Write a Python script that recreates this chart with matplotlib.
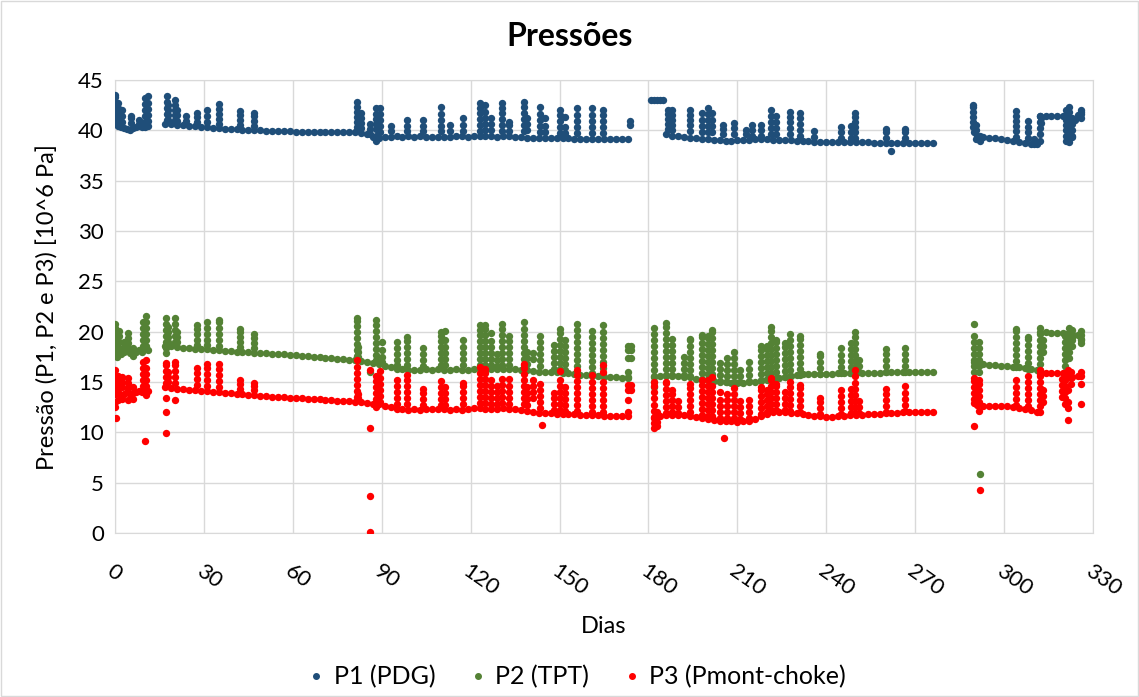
import matplotlib
matplotlib.use("Agg")
import matplotlib.pyplot as plt
from matplotlib.lines import Line2D
from matplotlib.patches import Rectangle
import numpy as np

plt.rcParams['font.family'] = ['Lato', 'DejaVu Sans']

# ---- P1 (PDG) ----
p1_days = [0, 1, 2, 3, 4, 5, 6, 7, 8, 9, 10, 11,
           17, 19, 21, 23, 25, 27, 29, 31, 33, 35, 37, 39, 41, 43, 45, 47, 49, 51, 53, 55, 57, 59,
           61, 63, 65, 67, 69, 71, 73, 75, 77, 79, 81,
           83, 85, 87, 89, 91, 93, 95, 97, 99, 101, 103, 105, 107, 109, 111, 113, 115, 117, 119,
           121, 123, 125, 127, 129, 131, 133, 135, 137, 139, 141, 143, 145, 147, 149, 151, 153,
           155, 157, 159, 161, 163, 165, 167, 169, 171, 173,
           181, 182, 183, 184, 185,
           186, 188, 190, 192, 194, 196, 198, 200, 202, 204, 206, 208, 210, 212, 214, 216, 218,
           220, 222, 224, 226, 228, 230, 232, 234, 236, 238, 240, 242, 244, 246, 248, 250, 252,
           254, 256, 258, 260, 262, 264, 266, 268, 270, 272, 274, 276,
           290, 291, 293, 295, 297, 299, 301, 303, 305, 307, 309, 311,
           312, 314, 316, 318, 320, 322, 323, 324, 325, 326]
p1_vals = [40.6, 40.4, 40.3, 40.2, 40.1, 40.0, 40.2, 40.3, 40.4, 40.3, 40.3, 40.4,
           40.6, 40.6, 40.5, 40.5, 40.4, 40.4, 40.3, 40.3, 40.2, 40.2, 40.1, 40.1, 40.1, 40.0,
           40.0, 40.0, 40.0, 39.9, 39.9, 39.9, 39.9, 39.9,
           39.8, 39.8, 39.8, 39.8, 39.8, 39.8, 39.8, 39.8, 39.8, 39.8, 39.8,
           39.7, 39.6, 39.4, 39.3, 39.4, 39.4, 39.5, 39.4, 39.5, 39.4, 39.5, 39.4, 39.4, 39.4,
           39.4, 39.4, 39.5, 39.5, 39.4,
           39.5, 39.5, 39.5, 39.5, 39.4, 39.5, 39.5, 39.4, 39.4, 39.3, 39.3, 39.3, 39.3, 39.3,
           39.3, 39.3, 39.3,
           39.2, 39.2, 39.2, 39.2, 39.2, 39.2, 39.2, 39.2, 39.2, 39.2,
           43.0, 43.0, 43.0, 43.0, 43.0,
           39.6, 39.5, 39.5, 39.4, 39.3, 39.3, 39.2, 39.2, 39.1, 39.1, 39.0, 39.0, 39.1, 39.1,
           39.1, 39.2, 39.2,
           39.2, 39.1, 39.1, 39.1, 39.1, 39.0, 39.0, 39.0, 38.9, 38.9, 38.9, 38.9, 38.9, 38.9,
           38.9, 38.9, 38.9,
           38.9, 38.8, 38.8, 38.8, 38.8, 38.8, 38.8, 38.8, 38.8, 38.8, 38.8, 38.8,
           39.8, 39.5, 39.4, 39.3, 39.3, 39.2, 39.1, 39.0, 38.9, 38.8, 38.7, 38.7,
           41.4, 41.4, 41.4, 41.4, 41.4, 40.5, 39.5, 41.0, 41.5, 41.8]
p1_spikes = [
    (0, [40.8, 41.3, 41.8, 42.3, 42.8, 43.3, 43.5]), (1, [41.0, 41.6, 42.2, 42.7]),
    (2.5, [40.8, 41.4, 42.0]), (5.5, [40.7, 41.2, 41.4]), (8, [40.6, 41.0]),
    (10, [40.8, 41.4, 42.0, 42.6, 43.2]), (11, [40.9, 41.5, 42.1, 42.7, 43.4]),
    (17.4, [41.0, 41.6, 42.2, 42.8, 43.4]), (18, [41.0, 41.5, 42.0, 42.5]),
    (20.3, [41.0, 41.5, 42.0, 42.5, 43.0]), (21, [40.9, 41.5, 42.0]), (24, [40.9, 41.4]),
    (27.5, [40.8, 41.3, 41.7]), (31, [40.8, 41.4, 42.0]), (35, [40.6, 41.1, 41.6, 42.1, 42.6]),
    (42, [40.5, 41.0, 41.5, 41.9]), (47, [40.4, 40.9, 41.4, 41.7]),
    (81.5, [40.3, 40.8, 41.3, 41.8, 42.3, 42.8]), (83, [40.2, 40.7, 41.2, 41.7]),
    (86, [39.6, 40.1, 40.6]), (88, [39.0, 39.5, 40.1, 40.6, 41.1, 41.6, 42.2]),
    (89.5, [39.8, 40.4, 41.0, 41.6, 42.2]), (93, [39.9, 40.4]), (98.4, [39.9, 40.4, 41.0]),
    (104, [39.9, 40.4, 41.0]), (110, [39.9, 40.4, 41.0, 41.6, 42.3]), (113, [39.9, 40.5]),
    (117.5, [39.9, 40.5, 41.2]), (123, [39.9, 40.5, 41.1, 41.7, 42.2, 42.7]),
    (125, [40.0, 40.6, 41.2, 41.8, 42.5]), (127, [40.0, 40.6, 41.2]),
    (130.5, [39.9, 40.5, 41.1, 41.7, 42.2, 42.7]), (133, [39.9, 40.5, 40.8]),
    (138, [39.9, 40.5, 41.1, 41.7, 42.3, 42.8]), (139, [40.0, 40.6, 41.2]),
    (143.4, [39.8, 40.4, 41.0, 41.6, 42.3]), (145, [39.8, 40.4, 41.2]),
    (150, [39.7, 40.3, 40.9, 41.5, 42.0]), (152, [39.7, 40.3, 41.3]),
    (156, [39.7, 40.3, 40.9, 41.5, 42.2]), (160.8, [39.7, 40.3, 40.9, 41.5, 42.2]),
    (164.7, [39.7, 40.3, 40.9, 41.5, 42.0]), (173.8, [40.5, 40.9]),
    (186.5, [40.1, 40.6, 41.1, 41.6, 42.0]), (188, [40.0, 40.5, 41.0, 41.5, 42.0]),
    (194, [39.9, 40.5, 41.0, 41.5, 42.0]), (198, [39.8, 40.4, 41.0, 41.7]),
    (200, [39.8, 40.4, 41.0, 41.6, 42.2]), (201.5, [39.8, 40.4, 41.0, 41.7]),
    (205, [39.6, 40.1, 40.5]), (209, [39.6, 40.2, 40.7]), (213, [39.6, 40.0]),
    (215, [39.5, 40.0, 40.5]), (218, [39.5, 40.0, 40.5]),
    (221.5, [39.6, 40.2, 40.8, 41.4, 42.0]), (223, [39.6, 40.2, 40.8, 41.4]),
    (227.7, [39.6, 40.2, 40.8, 41.3, 41.8]), (231, [39.5, 40.0, 40.6, 41.2, 41.7]),
    (236, [39.4, 39.9]), (245, [39.3, 39.8, 40.3]), (248.5, [39.3, 39.8, 40.4]),
    (249.7, [39.3, 39.8, 40.3, 40.8, 41.3, 41.7]), (260, [39.3, 39.8, 40.1]), (262, [38.0]),
    (266.5, [39.3, 39.8, 40.1]), (289.5, [40.3, 40.8, 41.3, 41.8, 42.3, 42.5]),
    (290.5, [39.2, 40.0, 40.5]), (292, [39.0, 39.5]),
    (304, [39.4, 39.9, 40.4, 40.9, 41.4, 41.9]), (308, [39.3, 39.8, 40.3, 40.9]),
    (310, [38.7, 39.2]), (312, [39.0, 39.6, 40.2, 40.8, 41.4]), (312.5, [40.7, 41.2]),
    (321, [39.0, 39.5, 40.0, 40.5, 41.0, 41.5, 42.0]),
    (322, [38.9, 39.4, 40.0, 40.6, 41.2, 41.8, 42.3]), (323, [39.4, 40.0, 40.6, 41.2]),
    (326, [41.2, 41.6, 42.0]),
]

# ---- P2 (TPT) ----
p2_days = [0, 1, 2, 3, 4, 5, 6, 7, 8, 9, 10, 11,
           17, 19, 21, 23, 25, 27, 29, 31, 33, 35, 37, 39, 41, 43, 45, 47, 49, 51, 53, 55, 57, 59,
           61, 63, 65, 67, 69, 71, 73, 75, 77, 79, 81,
           83, 85, 87, 89, 91, 93, 95, 97, 99, 101, 103, 105, 107, 109, 111, 113, 115, 117, 119,
           121, 123, 125, 127, 129, 131, 133, 135, 137, 139, 141, 143, 145, 147, 149, 151, 153,
           155, 157, 159, 161, 163, 165, 167, 169, 171, 173,
           182, 184, 186, 188, 190, 192, 194, 196, 198, 200, 202, 204, 206, 208, 210, 212, 214,
           216, 218, 220, 222, 224, 226, 228, 230, 232, 234, 236, 238, 240, 242, 244, 246, 248,
           250, 252, 254, 256, 258, 260, 262, 264, 266, 268, 270, 272, 274, 276,
           290, 291, 293, 295, 297, 299, 301, 303, 305, 307, 309, 311,
           312, 314, 316, 318, 320, 321, 323, 325, 326]
p2_vals = [18.0, 18.2, 17.8, 18.0, 18.2, 17.9, 17.8, 18.0, 18.2, 18.0, 18.3, 18.2,
           18.6, 18.6, 18.5, 18.4, 18.4, 18.3, 18.3, 18.3, 18.2, 18.2, 18.1, 18.1, 18.0, 18.0,
           18.0, 17.9, 17.9, 17.9, 17.8, 17.8, 17.8, 17.7,
           17.7, 17.6, 17.6, 17.5, 17.5, 17.4, 17.4, 17.3, 17.3, 17.2, 17.2,
           17.1, 17.0, 16.9, 16.8, 16.6, 16.5, 16.3, 16.3, 16.2, 16.2, 16.2, 16.3, 16.2, 16.3,
           16.2, 16.2, 16.3, 16.2, 16.2,
           16.3, 16.3, 16.2, 16.3, 16.3, 16.3, 16.3, 16.3, 16.2, 16.2, 16.1, 16.0, 16.0, 16.0,
           16.0, 15.9, 15.9,
           15.8, 15.7, 15.7, 15.6, 15.6, 15.5, 15.5, 15.5, 15.4, 15.4,
           15.5, 15.6, 15.6, 15.6, 15.6, 15.5, 15.5, 15.3, 15.2, 15.2, 15.1, 15.0, 15.0, 14.9,
           14.9, 14.9, 15.0,
           15.0, 15.1, 15.2, 15.3, 15.4, 15.5, 15.6, 15.7, 15.8, 15.8, 15.8, 15.8, 15.8, 15.8,
           15.9, 15.9, 15.9,
           15.9, 15.9, 15.9, 15.9, 15.9, 16.0, 16.0, 16.0, 16.0, 16.0, 16.0, 16.0, 16.0, 16.0,
           17.0, 16.8, 16.8, 16.7, 16.7, 16.6, 16.6, 16.5, 16.5, 16.4, 16.3, 16.2,
           20.0, 20.0, 19.9, 19.9, 19.9, 19.8, 19.5, 19.7, 19.2]
p2_spikes = [
    (0, [18.5, 19.0, 19.5, 20.0, 20.4, 20.8]), (0.5, [17.5, 18.6, 19.2, 19.8]),
    (1.5, [18.4, 19.0, 19.6, 20.1]), (3, [18.5, 19.0]), (4.5, [18.4, 18.9, 19.4, 19.9]),
    (6, [17.6, 18.4]), (9.6, [18.6, 19.2, 19.8, 20.4, 21.0]),
    (10.5, [18.6, 19.2, 19.8, 20.4, 21.0, 21.6]),
    (17.2, [17.9, 18.4, 19.0, 19.6, 20.2, 20.8, 21.4]), (18, [19.0, 19.5, 20.0, 20.5]),
    (20.3, [19.0, 19.6, 20.2, 20.8, 21.4]), (21, [19.0, 19.5, 20.0]),
    (27.5, [18.7, 19.2, 19.8, 20.3, 20.7]), (31, [18.7, 19.2, 19.8, 20.4, 21.0]),
    (35, [18.6, 19.2, 19.8, 20.4, 21.0, 21.2]), (42, [18.5, 19.0, 19.5, 20.0, 20.3]),
    (47, [18.4, 18.9, 19.4, 19.8]),
    (81.5, [17.6, 18.2, 18.8, 19.4, 20.0, 20.6, 21.1, 21.4]), (82, [17.5, 18.0, 18.5]),
    (86, [16.0]), (88, [17.2, 17.7, 18.3, 18.9, 19.5, 20.1, 20.7, 21.2]),
    (90, [17.0, 17.5, 18.2, 19.0]), (95, [16.7, 17.2, 17.8, 18.4, 19.0]),
    (98.4, [16.7, 17.3, 17.9, 18.5, 19.1, 19.5]), (104, [16.6, 17.2, 17.8, 18.4]),
    (110, [16.7, 17.3, 17.9, 18.5, 19.1, 19.6, 20.0]),
    (111.5, [16.7, 17.3, 17.9, 18.5, 19.2, 20.1]), (117.5, [16.7, 17.3, 17.9, 18.5, 19.2]),
    (123, [16.7, 17.3, 17.9, 18.5, 19.1, 19.7, 20.2, 20.7]),
    (125, [16.7, 17.3, 17.9, 18.5, 19.1, 19.7, 20.3, 20.7]),
    (127, [16.7, 17.3, 17.9, 18.5, 19.1, 19.9]), (129, [16.6, 17.2, 17.8]),
    (130.5, [16.7, 17.3, 17.9, 18.5, 19.1, 19.7, 20.3, 20.8]),
    (133, [16.7, 17.3, 17.9, 18.5, 19.1, 19.6]),
    (138, [16.7, 17.3, 17.9, 18.5, 19.1, 19.7, 20.3, 21.0]), (139, [16.8, 17.4, 18.0]),
    (141, [17.3, 17.9]), (143.4, [16.6, 17.2, 17.8, 18.4, 19.0, 19.6]),
    (148, [16.3, 16.9, 17.5, 18.1, 18.7]),
    (150, [16.3, 16.9, 17.5, 18.1, 18.7, 19.3, 19.9, 20.3]),
    (152, [16.2, 16.8, 17.4, 18.0, 18.6, 19.2]),
    (156, [16.0, 16.6, 17.2, 17.8, 18.4, 19.0, 19.6, 20.2, 20.8]),
    (160.8, [15.9, 16.5, 17.1, 17.7, 18.3, 18.9, 19.5, 20.1]),
    (164.7, [15.8, 16.4, 17.0, 17.6, 18.2, 18.8, 19.4, 20.0, 20.7]),
    (173, [15.5, 16.0, 17.4, 18.2, 18.6]), (174, [17.4, 18.2, 18.6]),
    (182, [14.5, 15.0, 15.6, 16.2, 16.8, 17.4, 18.0, 18.6, 19.2, 19.8, 20.4]),
    (186, [15.7, 16.3, 16.9, 17.5, 18.1, 18.7, 19.3, 19.9, 20.5, 20.85]),
    (188, [15.7, 16.3, 16.9, 17.5, 18.1, 18.7, 19.3]), (192, [15.7, 16.3, 16.9, 17.5]),
    (194, [15.6, 16.2, 16.8, 17.4, 18.0, 18.6, 19.2, 19.3]),
    (198, [15.3, 15.9, 16.5, 17.1, 17.7, 18.3, 18.9, 19.5, 19.7]),
    (200, [15.2, 15.8, 16.4, 17.0, 17.6, 18.2, 18.8, 19.4, 19.6]),
    (201.5, [15.2, 15.8, 16.4, 17.0, 17.6, 18.2, 18.8, 19.4, 20.0, 20.2]),
    (204, [15.1, 15.7, 16.3, 16.9]), (206.5, [15.0, 15.6, 16.2, 16.8, 17.4]),
    (209, [15.0, 15.6, 16.2, 16.8, 17.4, 18.0]), (211, [15.0, 15.6, 16.2]),
    (214, [15.1, 15.7, 16.3, 17.0]), (218, [15.2, 15.8, 16.4, 17.0, 17.6, 18.2, 18.6]),
    (220, [15.3, 15.9, 16.5, 17.1, 17.7, 18.3, 18.6]),
    (221.5, [15.3, 15.9, 16.5, 17.1, 17.7, 18.3, 18.9, 19.5, 20.1, 20.5]),
    (223, [15.4, 16.0, 16.6, 17.2, 17.8, 18.4, 19.0, 19.2]),
    (226, [15.5, 16.1, 16.7, 17.3, 17.9, 18.5, 18.9]),
    (227.7, [15.6, 16.2, 16.8, 17.4, 18.0, 18.6, 19.2, 19.8]),
    (231, [15.7, 16.3, 16.9, 17.5, 18.1, 18.7, 19.3, 19.6]),
    (238, [15.8, 16.4, 17.0, 17.6, 17.8]), (245, [15.9, 16.5, 17.1, 17.7, 18.4]),
    (248.5, [15.9, 16.5, 17.1, 17.7, 18.3, 18.9]),
    (249.7, [15.9, 16.5, 17.1, 17.7, 18.3, 18.9, 19.5, 20.0]), (251, [16.0, 16.6, 17.2]),
    (260, [16.0, 16.6, 17.2, 17.8, 18.3]), (266.5, [16.0, 16.6, 17.2, 17.8, 18.4]),
    (290, [16.0, 16.6, 17.2, 17.8, 18.4, 19.0, 19.6, 20.8]),
    (291.5, [16.0, 16.6, 17.2, 17.8, 18.4, 19.0]), (292, [5.9]),
    (304, [16.5, 17.1, 17.7, 18.3, 18.9, 19.5, 20.1, 20.3]),
    (308, [16.3, 16.9, 17.5, 18.1, 18.7, 19.3, 19.5]),
    (312, [16.2, 16.8, 17.4, 18.0, 18.6, 19.2, 19.8, 20.4]), (313, [18.0, 18.6, 19.2]),
    (320.5, [16.0, 16.6, 17.2, 17.8, 18.4, 19.0, 19.6]),
    (322, [17.4, 18.0, 18.6, 19.2, 19.8, 20.4]), (323, [18.6, 19.2, 19.8, 20.2]),
    (326, [18.9, 19.3, 19.7, 20.1]),
]

# ---- P3 (Pmont-choke) ----
p3_days = [0, 1, 2, 3, 4, 5, 6, 7, 8, 9, 10, 11,
           17, 19, 21, 23, 25, 27, 29, 31, 33, 35, 37, 39, 41, 43, 45, 47, 49, 51, 53, 55, 57, 59,
           61, 63, 65, 67, 69, 71, 73, 75, 77, 79, 81,
           83, 85, 87, 89, 91, 93, 95, 97, 99, 101, 103, 105, 107, 109, 111, 113, 115, 117, 119,
           121, 123, 125, 127, 129, 131, 133, 135, 137, 139, 141, 143, 145, 147, 149, 151, 153,
           155, 157, 159, 161, 163, 165, 167, 169, 171, 173,
           182, 184, 186, 188, 190, 192, 194, 196, 198, 200, 202, 204, 206, 208, 210, 212, 214,
           216, 218, 220, 222, 224, 226, 228, 230, 232, 234, 236, 238, 240, 242, 244, 246, 248,
           250, 252, 254, 256, 258, 260, 262, 264, 266, 268, 270, 272, 274, 276,
           290, 291, 293, 295, 297, 299, 301, 303, 305, 307, 309, 311,
           312, 314, 316, 318, 320, 321, 323, 325]
p3_vals = [13.8, 14.0, 13.6, 13.8, 14.0, 13.8, 13.9, 14.0, 14.1, 14.0, 14.2, 14.1,
           14.5, 14.4, 14.3, 14.3, 14.2, 14.2, 14.1, 14.1, 14.0, 14.0, 13.9, 13.9, 13.8, 13.8,
           13.7, 13.7, 13.6, 13.6, 13.5, 13.5, 13.5, 13.4,
           13.4, 13.4, 13.3, 13.3, 13.3, 13.2, 13.2, 13.1, 13.1, 13.1, 13.0,
           13.0, 12.9, 12.8, 12.8, 12.6, 12.5, 12.3, 12.3, 12.2, 12.3, 12.2, 12.3, 12.3, 12.3,
           12.3, 12.2, 12.3, 12.2, 12.3,
           12.4, 12.4, 12.3, 12.3, 12.3, 12.4, 12.3, 12.3, 12.2, 12.1, 12.0, 11.9, 11.9, 11.9,
           11.8, 11.8, 11.8,
           11.8, 11.7, 11.7, 11.7, 11.7, 11.6, 11.6, 11.6, 11.6, 11.6,
           11.4, 11.6, 11.7, 11.7, 11.7, 11.7, 11.6, 11.5, 11.4, 11.3, 11.2, 11.1, 11.1, 11.1,
           11.0, 11.1, 11.1,
           11.3, 11.6, 11.8, 12.0, 12.0, 12.0, 11.9, 11.9, 11.8, 11.7, 11.6, 11.6, 11.5, 11.5,
           11.6, 11.6, 11.7,
           11.7, 11.7, 11.8, 11.8, 11.8, 11.9, 11.9, 11.9, 12.0, 12.0, 12.0, 12.0, 12.0, 12.0,
           12.9, 12.7, 12.6, 12.6, 12.6, 12.6, 12.6, 12.5, 12.4, 12.3, 12.2, 12.0,
           15.8, 15.9, 15.9, 15.9, 15.9, 15.7, 15.5, 15.6]
p3_spikes = [
    (0, [12.5, 13.0, 14.4, 15.0, 15.6, 16.2]), (0.2, [11.4]), (1, [13.2, 14.6, 15.2, 15.6]),
    (2.5, [13.3, 14.5, 15.0, 15.5]), (4.5, [13.2, 14.4, 14.9, 15.4]), (6, [13.3, 14.5]),
    (9.6, [14.6, 15.2, 15.8, 16.4, 17.0]), (10, [9.1]),
    (10.5, [13.7, 14.6, 15.2, 15.8, 16.4, 17.2]),
    (17.2, [12.05, 13.4, 14.9, 15.5, 16.1, 16.7, 16.9]), (17.3, [9.9]),
    (18, [15.0, 15.5, 16.0]), (20.3, [13.2, 14.9, 15.5, 16.1, 16.7, 17.0]),
    (27.5, [14.7, 15.3, 15.9, 16.4]), (31, [14.6, 15.2, 15.8, 16.4, 16.8]),
    (35, [14.5, 15.1, 15.7, 16.3, 16.8]), (42, [14.3, 14.8, 15.2]), (47, [14.2, 14.6, 14.9]),
    (81.5, [13.5, 14.1, 14.7, 15.3, 15.9, 16.5, 17.2]), (82, [13.4, 13.8]),
    (86, [16.2, 10.4, 3.7, 0.1]), (88, [12.5, 13.3, 13.9, 14.5, 15.1, 15.6]),
    (89.5, [13.0, 13.6, 14.2, 14.8, 15.4, 16.1]), (95, [12.8, 13.4, 14.0, 14.6, 15.2]),
    (98.4, [12.8, 13.4, 14.0, 14.6, 15.2, 15.7]), (104, [12.7, 13.3, 13.9, 14.3]),
    (110, [12.7, 13.3, 13.9, 14.5, 15.1]), (111.5, [12.7, 13.3, 13.9, 14.5]),
    (117.5, [12.8, 13.4, 14.0, 14.6, 14.9]),
    (123, [12.9, 13.5, 14.1, 14.7, 15.3, 15.9, 16.5]),
    (125, [12.9, 13.5, 14.1, 14.7, 15.3, 15.9, 16.3]),
    (127, [12.8, 13.4, 14.0, 14.6, 15.2]), (129, [12.8, 13.4, 14.0, 14.6]),
    (130.5, [12.9, 13.5, 14.1, 14.7, 15.3]), (133, [12.8, 13.4, 14.0, 14.6, 15.3]),
    (138, [12.8, 13.4, 14.0, 14.6, 15.2, 15.8, 16.4, 16.8]), (139, [12.7, 13.3, 13.9, 14.5]),
    (141, [13.4, 14.0, 14.6, 15.2]), (143.4, [12.4, 13.0, 13.6, 14.2, 14.8]), (144, [10.7]),
    (148, [12.2, 12.8, 13.4, 13.9]), (150, [12.2, 12.8, 13.4, 14.0, 14.6, 15.2, 16.1]),
    (152, [12.1, 12.7, 13.3, 13.9, 14.5]),
    (156, [12.1, 12.7, 13.3, 13.9, 14.5, 15.1, 15.7, 16.2]),
    (160.8, [12.0, 12.6, 13.2, 13.8, 14.4, 15.0, 15.7]),
    (164.7, [12.0, 12.6, 13.2, 13.8, 14.4, 15.0, 16.0, 16.7]),
    (173, [12.0, 13.2, 14.2, 14.7]), (174, [14.2, 14.7]),
    (182, [10.4, 10.9, 11.5, 12.1, 12.7, 13.4, 14.0, 14.6, 15.0]),
    (183, [10.6, 11.0, 11.5, 12.0]), (186, [11.9, 12.5, 13.1, 13.7, 14.3, 14.9, 15.0]),
    (188, [12.0, 12.6, 13.2, 13.8, 14.2]), (190, [11.9, 12.5, 13.1]),
    (194, [12.0, 12.6, 13.2, 13.8, 14.4, 14.8]),
    (198, [11.7, 12.3, 12.9, 13.5, 14.1, 14.7, 15.2]),
    (200, [11.6, 12.2, 12.8, 13.4, 14.0, 14.6, 15.2]),
    (201.5, [11.6, 12.2, 12.8, 13.4, 14.0, 14.6, 15.5]),
    (204, [11.4, 12.0, 12.6, 13.2, 14.0]), (205.5, [9.4]),
    (206.5, [11.4, 12.0, 12.6, 13.2, 13.8]), (209, [11.4, 12.0, 12.6, 13.2, 13.8, 14.4]),
    (211, [11.3, 11.9, 12.5, 13.1]), (214, [11.4, 12.0, 12.6, 13.2]),
    (218, [11.8, 12.4, 13.0, 13.6, 14.2, 14.5]), (220, [12.0, 12.6, 13.2, 13.8, 14.2]),
    (221.5, [12.2, 12.8, 13.4, 14.0, 14.6, 15.2, 15.4]),
    (223, [12.2, 12.8, 13.4, 14.0, 14.6, 14.8]), (226, [12.2, 12.8, 13.4, 14.0]),
    (227.7, [12.1, 12.7, 13.3, 13.9, 14.5, 15.0]),
    (231, [12.0, 12.6, 13.2, 13.8, 14.4, 14.7]), (238, [11.8, 12.4, 13.0, 13.4]),
    (245, [11.8, 12.4, 13.0, 13.6, 14.2]), (248.5, [11.9, 12.5, 13.1, 13.7, 14.3]),
    (249.7, [11.9, 12.5, 13.1, 13.7, 14.3, 14.9, 15.6, 16.2]), (251, [11.9, 12.5, 13.1]),
    (260, [12.0, 12.6, 13.2, 13.8, 14.3]), (266.5, [12.1, 12.7, 13.3, 13.9, 14.6]),
    (290, [10.6, 13.3, 13.9, 14.5, 15.1, 15.4]), (291.5, [12.1, 13.0, 13.6, 14.2, 14.8, 15.2]),
    (292, [4.3]), (304, [12.7, 13.3, 13.9, 14.5, 15.2]),
    (308, [12.6, 13.2, 13.8, 14.4, 15.0, 15.6]),
    (312, [12.0, 12.6, 13.2, 13.8, 14.4, 15.0, 15.6, 16.2]), (313, [13.0, 13.6, 14.2]),
    (319.5, [13.5, 14.1, 14.7, 15.3]), (320.5, [12.8, 13.4, 14.0, 14.6, 15.2, 15.9]),
    (321.5, [11.2, 12.4, 13.0, 14.2, 16.2]), (322.5, [14.8, 15.4, 16.0]),
    (326, [12.8, 14.8, 15.6, 16.0]),
]

labels = ["P1 (PDG)", "P2 (TPT)", "P3 (Pmont-choke)"]
colors = ["#1F4E79", "#548235", "#FF0000"]


def points(days, vals, spikes):
    xs = list(days)
    ys = list(vals)
    for d, vs in spikes:
        xs += [d] * len(vs)
        ys += vs
    return np.array(xs), np.array(ys)


series = [points(p1_days, p1_vals, p1_spikes),
          points(p2_days, p2_vals, p2_spikes),
          points(p3_days, p3_vals, p3_spikes)]

fig = plt.figure(figsize=(11.39, 6.97), dpi=100)
ax = fig.add_axes([0.101, 0.2353, 0.8586, 0.6497])

for (x, y), c in zip(series, colors):
    ax.scatter(x, y, s=28, color=c, linewidths=0, zorder=3)

ax.set_xlim(0, 330)
ax.set_ylim(0, 45)
ax.set_xticks(range(0, 331, 30))
ax.set_yticks(range(0, 46, 5))
ax.grid(True, color="#D9D9D9", linewidth=1)
ax.set_axisbelow(True)
for s in ax.spines.values():
    s.set_color("#D9D9D9")
ax.tick_params(length=0, labelsize=16)
ax.tick_params(axis="y", pad=8)
ax.tick_params(axis="x", pad=20)
for lab in ax.get_xticklabels():
    lab.set_rotation(-35)
    lab.set_ha("left")
    lab.set_va("top")
    lab.set_rotation_mode("anchor")

ax.set_xlabel("Dias", fontsize=17, labelpad=12)
ax.set_ylabel("Pressão (P1, P2 e P3) [10^6 Pa]", fontsize=17, labelpad=14)
fig.suptitle("Pressões", fontsize=23, fontweight="bold", y=0.968)

handles = [Line2D([], [], marker="o", linestyle="", color=c, markersize=4) for c in colors]
fig.legend(handles, labels, loc="lower center", ncol=3, frameon=False, fontsize=18,
           bbox_to_anchor=(0.507, -0.02), handlelength=0.6, handletextpad=0.4,
           columnspacing=1.4)

fig.add_artist(Rectangle((0.001, 0.001), 0.998, 0.998, transform=fig.transFigure,
                         fill=False, edgecolor="#D9D9D9", linewidth=1))

fig.savefig("out.png", dpi=100)
